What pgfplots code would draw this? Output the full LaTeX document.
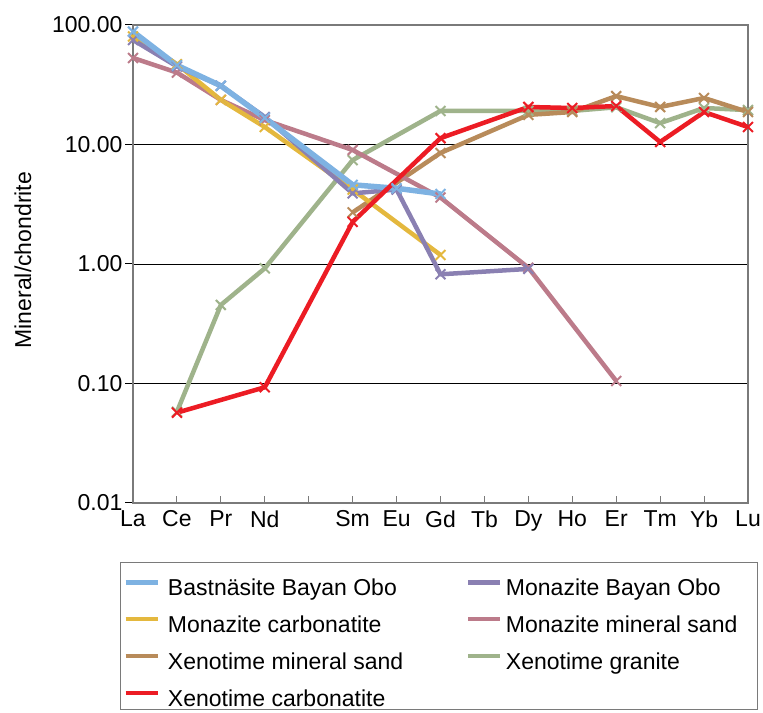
\documentclass[border=0pt]{standalone}
\usepackage{fontspec}
\setmainfont{Liberation Sans}
\usepackage{pgfplots}
\pgfplotsset{compat=1.18}

\definecolor{cBlue}{HTML}{7EB2E2}
\definecolor{cPurple}{HTML}{8A80B2}
\definecolor{cYellow}{HTML}{E4B83E}
\definecolor{cPink}{HTML}{BC7B8A}
\definecolor{cBrown}{HTML}{B88B5A}
\definecolor{cGreen}{HTML}{9FB38B}
\definecolor{cRed}{HTML}{EC1C24}
\definecolor{cAxis}{HTML}{7A7A7A}

\newcommand{\lstrut}{\rule[-3pt]{0pt}{34.3pt}}

\begin{document}
\begin{tikzpicture}
\begin{semilogyaxis}[
  name=ax,
  scale only axis, width=615pt, height=478pt,
  xmin=0, xmax=14, ymin=0.01, ymax=100,
  font=\fontsize{23}{27.6}\selectfont,
  /pgf/number format/assume math mode=true,
  xtick={0,...,14},
  xticklabels={La,Ce,Pr,Nd,,Sm,Eu,Gd,Tb,Dy,Ho,Er,Tm,Yb,Lu},
  ytick={0.01,0.1,1,10,100},
  yticklabels={0.01,0.10,1.00,10.00,100.00},
  yminorticks=false,
  xtick pos=bottom, ytick pos=left,
  tick align=inside,
  major tick length=7.5pt,
  x tick style={cAxis, line width=1pt},
  y tick style={black, line width=1pt, xshift=-7.5pt},
  yticklabel style={xshift=-7pt},
  xticklabel style={yshift=-4pt},
  ymajorgrids, major grid style={black, line width=0.8pt},
  axis line style={cAxis, line width=1.2pt},
  every axis y label/.style={at={(axis description cs:-0.179,0.508)}, rotate=90, anchor=center},
  ylabel={Mineral/chondrite},
  legend columns=2,
  legend cell align=left,
  legend image code/.code={\draw[line width=4.5pt] (0pt,-1.5pt) -- (32pt,-1.5pt);},
  legend style={at={(axis description cs:0,0)}, anchor=north west,
    xshift=-13pt, yshift=-59pt,
    draw=cAxis, line width=1pt, fill=white,
    inner ysep=0pt,
    /tikz/column 1/.style={column sep=6pt},
    /tikz/column 2/.style={column sep=6pt},
    /tikz/column 3/.style={column sep=1.5pt}},
]
\addlegendimage{cBlue}\addlegendentry{\lstrut\makebox[290pt][l]{Bastnäsite Bayan Obo}}
\addlegendimage{cPurple}\addlegendentry{\lstrut\makebox[246pt][l]{Monazite Bayan Obo}}
\addlegendimage{cYellow}\addlegendentry{\lstrut\makebox[290pt][l]{Monazite carbonatite}}
\addlegendimage{cPink}\addlegendentry{\lstrut\makebox[246pt][l]{Monazite mineral sand}}
\addlegendimage{cBrown}\addlegendentry{\lstrut\makebox[290pt][l]{Xenotime mineral sand}}
\addlegendimage{cGreen}\addlegendentry{\lstrut\makebox[246pt][l]{Xenotime granite}}
\addlegendimage{cRed}\addlegendentry{\lstrut\makebox[290pt][l]{Xenotime carbonatite}}

\pgfplotsset{every axis plot/.append style={line width=4.5pt, line join=round, mark=x, mark size=7pt, mark options={solid, line width=2pt}}}

% Xenotime granite
\addplot[cGreen, forget plot] coordinates {(1,0.058)(2,0.454)(3,0.92)(5,7.4)(7,19.1)(9,19.1)(10,19.1)(11,20.5)(12,15.1)(13,20.2)(14,19.4)};
% Xenotime mineral sand
\addplot[cBrown, forget plot] coordinates {(5,2.7)(7,8.5)(9,17.7)(10,18.7)(11,25.4)(12,20.6)(13,24.5)(14,18.7)};
% Monazite mineral sand
\addplot[cPink, forget plot] coordinates {(0,53)(1,40)(2,23.6)(3,16)(5,9.0)(7,3.6)(9,0.93)(11,0.105)};
% Monazite carbonatite
\addplot[cYellow, forget plot] coordinates {(0,80)(1,47)(2,23.6)(3,14)(5,4.2)(7,1.19)};
% Monazite Bayan Obo
\addplot[cPurple, forget plot] coordinates {(0,75)(1,45)(2,31)(3,17)(5,3.9)(6,4.2)(7,0.82)(9,0.91)};
% Bastnasite Bayan Obo
\addplot[cBlue, forget plot, line width=5.5pt] coordinates {(0,88)(1,46)(2,31)(3,16.7)(5,4.6)(6,4.3)(7,3.85)};
% Xenotime carbonatite
\addplot[cRed, forget plot] coordinates {(1,0.057)(3,0.093)(5,2.25)(7,11.3)(9,20.6)(10,20.2)(11,21)(12,10.5)(13,18.7)(14,14)};
\end{semilogyaxis}
\pgfresetboundingbox
\path ([xshift=-133pt,yshift=-210pt]ax.south west) rectangle ([xshift=15pt,yshift=25pt]ax.north east);
\end{tikzpicture}
\end{document}
